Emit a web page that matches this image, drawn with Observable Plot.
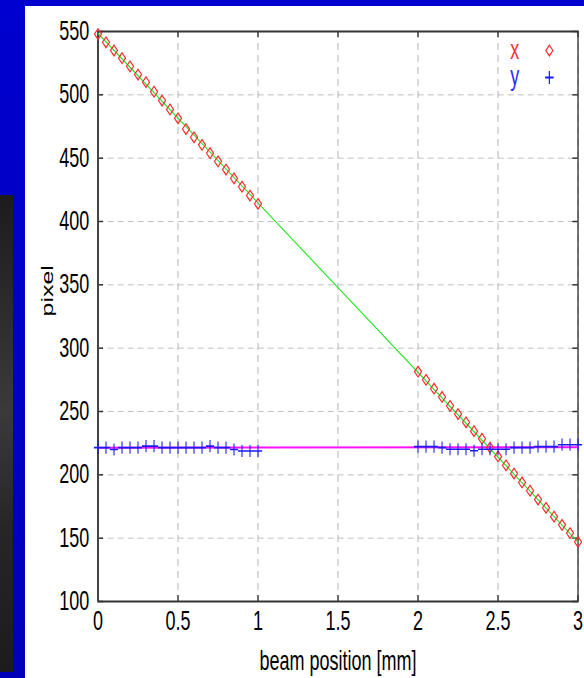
<!DOCTYPE html>
<html>
<head>
<meta charset="utf-8">
<script src="https://cdn.jsdelivr.net/npm/d3@7"></script>
<script src="https://cdn.jsdelivr.net/npm/@observablehq/plot@0.6"></script>
<style>
  html, body { margin: 0; padding: 0; overflow: hidden; }
  body { width: 584px; height: 678px; background: linear-gradient(#0000cf, #0000b8); position: relative; }
  #strip { position: absolute; left: 0; top: 195px; width: 13px; height: 477px;
           background: linear-gradient(#1c1c1c, #3a3a3a 45%, #262626 70%, #1c1c1c); }
  #panel { position: absolute; left: 25px; top: 6px; width: 559px; height: 672px; background: #fff; overflow: hidden; }
  #panel svg { transform: scaleX(0.6667); transform-origin: 0 0; max-width: none !important; display: block; }
</style>
</head>
<body>
<div id="strip"></div>
<div id="panel"></div>
<script>
// beam position [mm] for each measurement group
const posA = [0,0.05,0.1,0.15,0.2,0.25,0.3,0.35,0.4,0.45,0.5,0.55,0.6,0.65,0.7,0.75,0.8,0.85,0.9,0.95,1];
const posB = [2,2.05,2.1,2.15,2.2,2.25,2.3,2.35,2.4,2.45,2.5,2.55,2.6,2.65,2.7,2.75,2.8,2.85,2.9,2.95,3];
// x pixel (red diamonds)
const xPixA = [548,541.5,535,529,522.5,516,510,502.5,495.5,488.5,481.5,473,466.5,460.5,454,447.5,441,434,427.5,420.5,414];
const xPixB = [281.5,275,268,261.5,254.5,248,241.5,234.5,228.5,221.5,214.5,207.5,201,194,187.5,180.5,174,167,160.5,154,147];
// y pixel (blue plus)
const yPixA = [221.5,221.5,220,221.5,221.5,221.5,222.7,222.7,221.5,221.5,221.5,221.5,221.5,221.5,222.7,221.5,221.5,220,218.8,218.8,218.8];
const yPixB = [222.3,222.3,222.3,221.5,220.2,220.2,220.2,219,220.2,220.2,220.2,220.2,221.5,221.5,221.5,222.3,222.3,222.3,223.8,223.8,223.8];
// fit lines
const fitPos = [0, 3];
const fitX = [548.5, 147];
const fitY = [221.4, 221.8];
// ticks
const xTicks = [0, 0.5, 1, 1.5, 2, 2.5, 3];
const yTicks = [100, 150, 200, 250, 300, 350, 400, 450, 500, 550];
const legendLabels = ["x", "y"];

const pos = posA.concat(posB);
const xData = pos.map((p, i) => ({pos: p, val: xPixA.concat(xPixB)[i]}));
const yData = pos.map((p, i) => ({pos: p, val: yPixA.concat(yPixB)[i]}));
const fitXData = fitPos.map((p, i) => ({pos: p, val: fitX[i]}));
const fitYData = fitPos.map((p, i) => ({pos: p, val: fitY[i]}));

const W = 839, H = 672, ML = 109, MR = 10, MT = 25, MB = 77;
const innerW = W - ML - MR, innerH = H - MT - MB;
const font = "'Liberation Sans', Arial, sans-serif";

const chart = Plot.plot({
  width: W, height: H,
  marginLeft: ML, marginRight: MR, marginTop: MT, marginBottom: MB,
  style: {background: "transparent", fontFamily: font, fontSize: "27px", color: "#000", overflow: "visible"},
  x: {domain: [0, 3], label: null},
  y: {domain: [100, 550], label: null},
  marks: [
    Plot.gridX(xTicks, {stroke: "#b4b4b4", strokeOpacity: 1, strokeWidth: 1.5, strokeDasharray: "7,5"}),
    Plot.gridY(yTicks, {stroke: "#b4b4b4", strokeOpacity: 1, strokeWidth: 1, strokeDasharray: "9,6"}),
    Plot.tickX(xTicks, {x: d => d, insetTop: innerH - 6, stroke: "#333", strokeWidth: 2}),
    Plot.tickX(xTicks, {x: d => d, insetBottom: innerH - 6, stroke: "#333", strokeWidth: 2}),
    Plot.tickY(yTicks, {y: d => d, insetLeft: innerW - 8, stroke: "#333", strokeWidth: 1.5}),
    Plot.tickY(yTicks, {y: d => d, insetRight: innerW - 8, stroke: "#333", strokeWidth: 1.5}),
    Plot.frame({stroke: "#333", strokeWidth: 2}),
    Plot.ruleX([0], {stroke: "#444", strokeWidth: 3}),
    Plot.axisX(xTicks, {label: null, tickSize: 0, tickPadding: 9, fontSize: 27, tickFormat: d => String(d)}),
    Plot.axisY(yTicks, {label: null, tickSize: 0, tickPadding: 13, fontSize: 27, tickFormat: d => String(d)}),
    Plot.line(fitXData, {x: "pos", y: "val", stroke: "#22e622", strokeWidth: 1.3}),
    Plot.line(fitYData, {x: "pos", y: "val", stroke: "#ff10ff", strokeWidth: 2}),
    Plot.dot(xData, {x: "pos", y: "val", symbol: "diamond2", r: 4.8, stroke: "#ff2a2a", strokeWidth: 1.5}),
    Plot.dot(yData, {x: "pos", y: "val", symbol: "plus", r: 4, stroke: "#1a1aff", strokeWidth: 1.6}),
    Plot.text(["beam position [mm]"], {frameAnchor: "bottom", dy: 60, lineAnchor: "middle", text: d => d, fontSize: 27, fill: "#000"}),
    Plot.text(["pixel"], {frameAnchor: "left", dx: -75, rotate: -90, lineAnchor: "middle", text: d => d, fontSize: 25, fill: "#000"}),
    Plot.text([legendLabels[0]], {frameAnchor: "top-right", dx: -88, dy: 19, lineAnchor: "middle", text: d => d, fontSize: 27, fill: "#ff3030"}),
    Plot.text([legendLabels[1]], {frameAnchor: "top-right", dx: -88, dy: 45, lineAnchor: "middle", text: d => d, fontSize: 27, fill: "#2a2aff"}),
    Plot.dot([legendLabels[0]], {frameAnchor: "top-right", dx: -43, dy: 19, symbol: "diamond2", r: 4.8, stroke: "#ff2a2a", strokeWidth: 1.5}),
    Plot.dot([legendLabels[1]], {frameAnchor: "top-right", dx: -43, dy: 46, symbol: "plus", r: 4.2, stroke: "#1a1aff", strokeWidth: 1.8})
  ]
});
chart.style.maxWidth = "none";
document.getElementById("panel").appendChild(chart);
</script>
</body>
</html>
